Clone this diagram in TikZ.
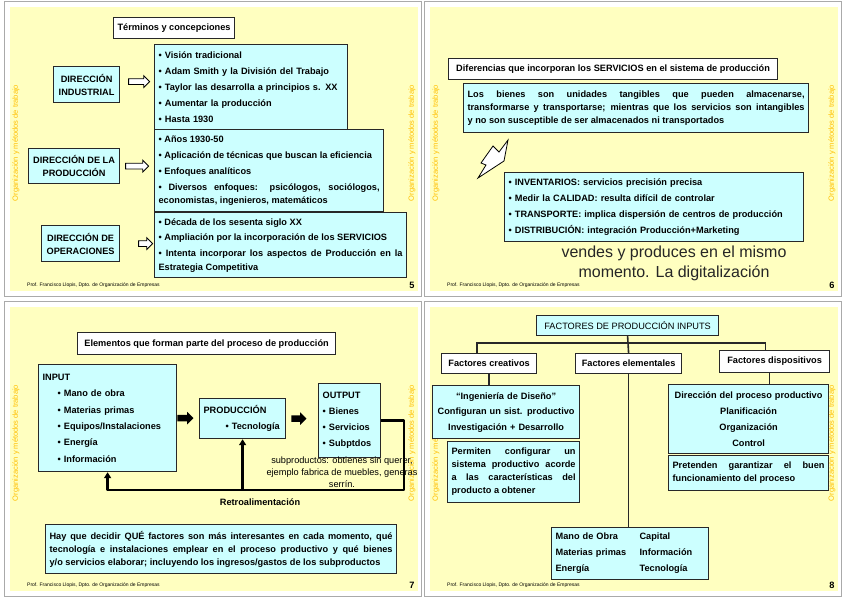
\documentclass[tikz,border=0pt]{standalone}
\usepackage{fontspec}
\setmainfont{Liberation Sans}
\usetikzlibrary{positioning, shapes.arrows, arrows.meta}
\definecolor{slideyellow}{RGB}{255,255,192}
\definecolor{boxcyan}{RGB}{204,255,255}
\definecolor{boxline}{RGB}{40,40,40}
\definecolor{sideorange}{RGB}{255,192,0}
\definecolor{framegray}{RGB}{170,170,170}
\newcommand{\bftxt}{\fontsize{9.2}{13}\selectfont\bfseries}
\newcommand{\rmtxt}{\fontsize{9.2}{12}\selectfont}

\begin{document}
\begin{tikzpicture}[x=1pt, y=-1pt,
    cbox/.style={draw=boxline, fill=boxcyan, line width=1.2pt, anchor=north west, inner xsep=4pt, inner ysep=1pt, font=\bftxt},
    wbox/.style={cbox, fill=white},
    sz/.style 2 args={minimum width=#1pt, minimum height=#2pt},
    whitearrow/.style={single arrow, draw=black, fill=white, line width=0.8pt, inner xsep=0pt, inner ysep=2.5pt, single arrow head extend=3pt},
    blackarrow/.style={single arrow, fill=black, inner xsep=0pt, inner ysep=3pt, single arrow head extend=3pt, minimum height=16pt},
    fb/.style={line width=2.4pt, line join=round, -{Triangle[width=7pt,length=6pt]}},
    tree/.style={draw=boxline, line width=1.6pt},
    sidetxt/.style={text=sideorange, font=\fontsize{7.5}{8}\selectfont, rotate=90},
    foot/.style={font=\fontsize{5}{6}\selectfont, anchor=west, inner sep=0pt},
    pgnum/.style={font=\bftxt, inner sep=0pt}]
    \useasboundingbox (0,0) rectangle (848,599);
    \fill[white] (0,0) rectangle (848,599);
    % the four slides
    \foreach \ox/\oy/\pg in {0/0/5, 420/0/6, 0/300/7, 420/300/8}{
        \draw[framegray, fill=white] (\ox+4,\oy+1) rectangle (\ox+421,\oy+296);
        \fill[slideyellow] (\ox+10,\oy+7) rectangle (\ox+418,\oy+291);
        \node[sidetxt] at (\ox+16,\oy+143) {Organización y métodos de trabajo};
        \node[sidetxt] at (\ox+412,\oy+143) {Organización y métodos de trabajo};
        \node[foot] at (\ox+27,\oy+285) {Prof. Francisco Llopis, Dpto. de Organización de Empresas};
        \node[pgnum] at (\ox+412,\oy+285) {\pg};
    }

    % slide 5
    \node[wbox, sz={118}{21}] (t5) at (113,17) {Términos y concepciones};
    \node[cbox, sz={66}{36}, align=center] (d1) at (53,66) {DIRECCIÓN\\INDUSTRIAL};
    \node[cbox, sz={91}{35}, align=center] (d2) at (28,148) {DIRECCIÓN DE LA\\PRODUCCIÓN};
    \node[cbox, sz={78}{36}, align=center] (d3) at (41,225) {DIRECCIÓN DE\\OPERACIONES};
    \node[cbox, sz={193}{85}, text width=185pt, align=left] (l1) at (154,44) {• Visión tradicional\\[3pt] • Adam Smith y la División del Trabajo\\[3pt] • Taylor las desarrolla a principios s. XX\\[3pt] • Aumentar la producción\\[3pt] • Hasta 1930};
    \node[cbox, sz={229}{82}, text width=221pt, align=justify] (l2) at (154,129) {• Años 1930-50\\[3pt] • Aplicación de técnicas que buscan la eficiencia\\[3pt] • Enfoques analíticos\\[3pt] • Diversos enfoques: psicólogos, sociólogos,\linebreak economistas, ingenieros, matemáticos};
    \node[cbox, sz={252}{65}, text width=244pt, align=justify] (l3) at (154,212) {• Década de los sesenta siglo XX\\[3pt] • Ampliación por la incorporación de los SERVICIOS\\[3pt] • Intenta incorporar los aspectos de Producción en la\linebreak Estrategia Competitiva};
    \node[whitearrow, minimum height=21pt, right=8pt of d1, yshift=3pt] (a1) {};
    \node[whitearrow, minimum height=23pt, right=5pt of d2] (a2) {};
    \node[whitearrow, minimum height=14pt, right=18pt of d3] (a3) {};

    % slide 6
    \node[wbox, sz={329}{21}] (t6) at (448,58) {Diferencias que incorporan los SERVICIOS en el sistema de producción};
    \node[cbox, sz={345}{49}, text width=337pt, align=justify] (s6a) at (463,83) {Los bienes son unidades tangibles que pueden almacenarse,\linebreak transformarse y transportarse; mientras que los servicios son intangibles\linebreak y no son susceptible de ser almacenados ni transportados};
    \draw[fill=white, line width=0.8pt, line join=miter] (508,140) -- (504,161) -- (478,178) -- (486,165) -- (481,163) -- (493,146) -- (499,152) -- cycle;
    \node[cbox, sz={299}{69}, text width=291pt, align=left] (s6b) at (504,172) {• INVENTARIOS: servicios precisión precisa\\[3pt] • Medir la CALIDAD: resulta difícil de controlar\\[3pt] • TRANSPORTE: implica dispersión de centros de producción\\[3pt] • DISTRIBUCIÓN: integración Producción+Marketing};
    \node[font=\fontsize{16}{20}\selectfont, align=center, text=black!85] (dig) at (674,263) {vendes y produces en el mismo\\momento. La digitalización};

    % slide 7
    \node[wbox, sz={258}{22}] (t7) at (77,332) {Elementos que forman parte del proceso de producción};
    \node[cbox, sz={138}{107}, text width=130pt, align=left] (in) at (38,364) {INPUT\\[3.4pt]\hspace*{15pt}• Mano de obra\\[3.4pt]\hspace*{15pt}• Materias primas\\[3.4pt]\hspace*{15pt}• Equipos/Instalaciones\\[3.4pt]\hspace*{15pt}• Energía\\[3.4pt]\hspace*{15pt}• Información};
    \node[cbox, sz={86}{40}, text width=78pt, align=left] (prod) at (199,398) {PRODUCCIÓN\\[3pt]\hspace*{22pt}• Tecnología};
    \node[cbox, sz={62}{74}, text width=54pt, align=left] (out) at (318,383) {OUTPUT\\[3pt]• Bienes\\[3pt]• Servicios\\[3pt]• Subptdos};
    \node[blackarrow, right=0pt of in] (ba1) {};
    \node[blackarrow, minimum height=15pt, right=5pt of prod] (ba2) {};
    \coordinate (fbB) at (404,490);
    \draw[fb] (out.east) -| (fbB) -| (in.south);
    \draw[fb] (prod.south |- fbB) -- (prod.south);
    \node[font=\rmtxt, align=center] (sub) at (342,472) {subproductos: obtienes sin querer,\\ejemplo fabrica de muebles, generas\\serrín.};
    \node[font=\bftxt] (retro) at (260,502) {Retroalimentación};
    \node[cbox, sz={351}{49}, text width=343pt, align=justify] (b7) at (45,524) {Hay que decidir QUÉ factores son más interesantes en cada momento, qué\linebreak tecnología e instalaciones emplear en el proceso productivo y qué bienes\linebreak y/o servicios elaborar; incluyendo los ingresos/gastos de los subproductos};

    % slide 8
    \node[cbox, sz={182}{20}, font=\fontsize{9.2}{11}\selectfont] (fpi) at (536,315) {FACTORES DE PRODUCCIÓN INPUTS};
    \node[wbox, sz={95}{20}] (fcre) at (441,353) {Factores creativos};
    \node[wbox, sz={106}{20}] (fele) at (575,353) {Factores elementales};
    \node[wbox, sz={110}{22}] (fdis) at (719,350) {Factores dispositivos};
    \coordinate (tj) at ([yshift=-7pt]fpi.south);
    \draw[tree] (fpi.south) -- (fele.north);
    \draw[tree] ([xshift=-12pt]fcre.north) |- (tj) -| ([xshift=-9pt]fdis.north);
    \node[cbox, sz={147}{53}, text width=139pt, align=center] (ing) at (432,385) {“Ingeniería de Diseño”\\[2.5pt]Configuran un sist. productivo\\[2.5pt]Investigación + Desarrollo};
    \node[cbox, sz={132}{61}, text width=124pt, align=justify] (perm) at (447,441) {Permiten configurar un\linebreak sistema productivo acorde\linebreak a las características del\linebreak producto a obtener};
    \node[cbox, sz={157}{52}, text width=149pt, align=left, font=\fontsize{9.2}{16}\selectfont\bfseries] (elem) at (551,527) {\makebox[84pt][l]{Mano de Obra}Capital\\\makebox[84pt][l]{Materias primas}Información\\\makebox[84pt][l]{Energía}Tecnología};
    \node[cbox, sz={160}{69}, text width=152pt, align=center, font=\fontsize{9.2}{16}\selectfont\bfseries] (dir) at (668,384) {Dirección del proceso productivo\\Planificación\\Organización\\Control};
    \node[cbox, sz={160}{35}, text width=152pt, align=justify] (pret) at (668,455) {Pretenden garantizar el buen\linebreak funcionamiento del proceso};
    \draw[tree] (fcre.south) -- (fcre.south |- ing.north);
    \draw[tree] (fele.south) -- (fele.south |- elem.north);
    \draw[tree] ([xshift=-5pt]fdis.south) -- ([xshift=-5pt]fdis.south |- dir.north);
\end{tikzpicture}
\end{document}
